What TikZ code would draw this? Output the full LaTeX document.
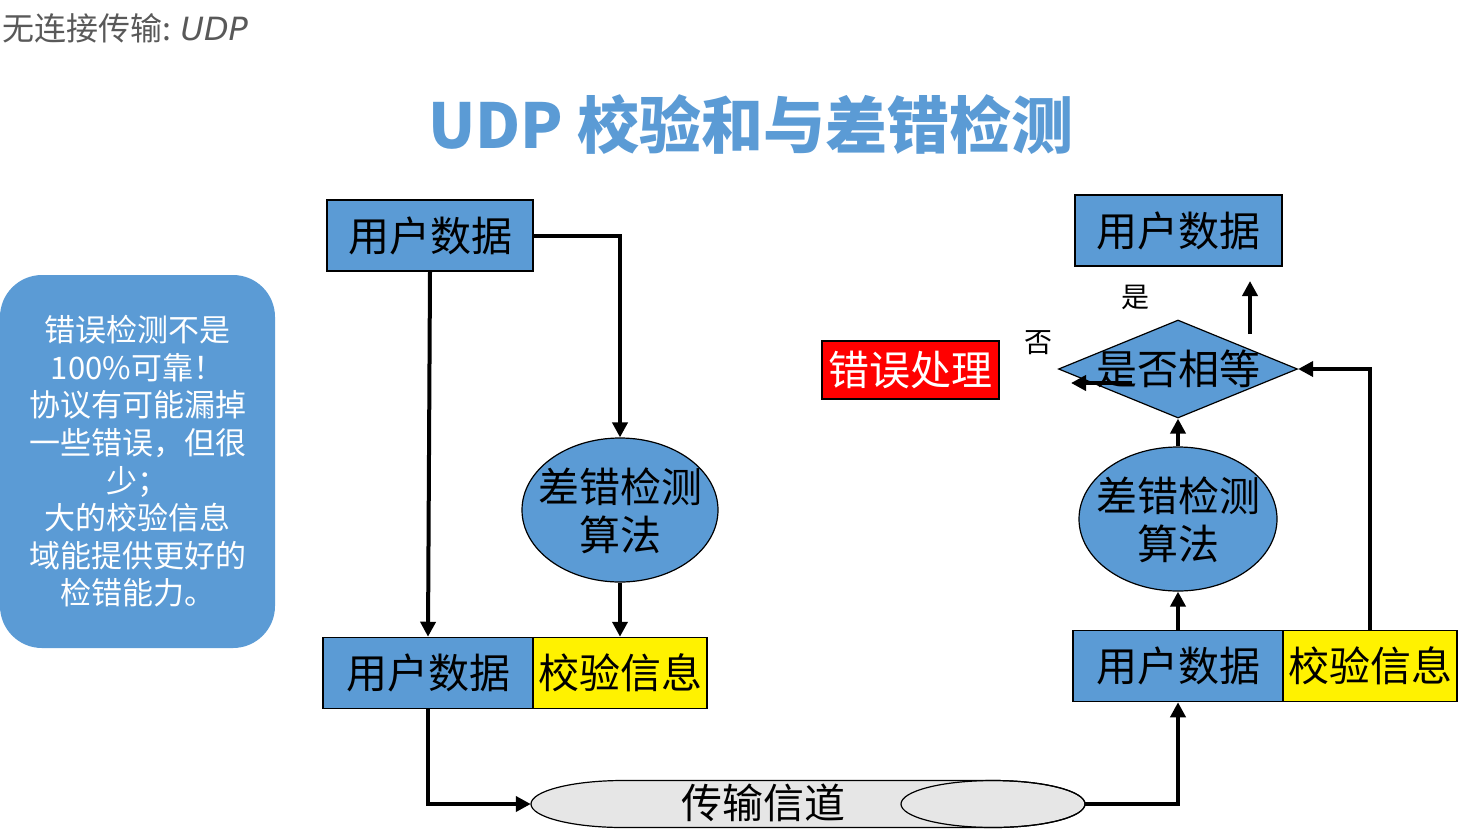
\documentclass[tikz,border=0pt]{standalone}
\usepackage{fontspec}
\setmainfont{Noto Sans CJK SC}
\newfontfamily\latfont{DejaVu Sans}
\usetikzlibrary{shapes.geometric,arrows.meta}
\definecolor{boxblue}{HTML}{5B9BD5}
\definecolor{titleblue}{HTML}{5B9BD5}
\definecolor{hdrgray}{HTML}{595959}
\definecolor{chgray}{HTML}{E6E6E6}
\begin{document}
\begin{tikzpicture}[x=1pt,y=-1pt,
  bigtxt/.style={font=\fontsize{41}{48}\selectfont},
  databox/.style={draw=black, line width=1.5pt, fill=boxblue, minimum height=71, inner sep=0, bigtxt},
  chkbox/.style={draw=black, line width=1.5pt, fill=yellow, minimum height=71, inner sep=0, bigtxt},
  algo/.style={ellipse, draw=black, line width=1.2pt, fill=boxblue, minimum width=196, minimum height=144, inner sep=0},
  algotxt/.style={align=center, inner sep=0, bigtxt},
  arr/.style={line width=4pt, -{Triangle[length=15pt,width=15pt]}},
  smalllbl/.style={font=\fontsize{28}{28}\selectfont}
]
\useasboundingbox (0,0) rectangle (1475,831);

% header
\node[anchor=west, text=hdrgray, inner sep=0, font=\fontsize{32}{32}\selectfont] (hdr) at (2,28) {无连接传输: {\latfont\itshape UDP}};
% title
\node[text=titleblue, inner sep=0, font=\fontsize{62}{62}\selectfont\bfseries] (title) at (751,125) {UDP 校验和与差错检测};

% left note
\node[fill=boxblue, rounded corners=42pt, minimum width=275, minimum height=373, inner sep=0, text=white, align=center, font=\fontsize{31}{37.6}\selectfont] (note) at (137.5,461.5)
 {错误检测不是\\100\%可靠！\\协议有可能漏掉\\一些错误，但很\\少；\\大的校验信息\\域能提供更好的\\检错能力。};

% sender side
\node[databox, minimum width=206] (ud1) at (430,235.5) {用户数据};
\node[algo] (alg1) at (620,510) {};
\node[algotxt] (alg1txt) at (620,511) {差错检测\\算法};
\node[databox, minimum width=210] (bud) at (428,673) {用户数据};
\node[chkbox, minimum width=174] (bchk) at (620,673) {校验信息};

% channel
\node[minimum width=554, minimum height=47, inner sep=0] (chan) at (808,804) {};
\filldraw[fill=chgray, draw=black, line width=1.2pt]
  (623,780.5) -- (993,780.5) arc(-90:90:92 and 23.5) -- (623,827.5) arc(90:270:92 and 23.5) -- cycle;
\draw[line width=1.2pt] (993,804) ellipse (92 and 23.5);
\node[bigtxt, inner sep=0] (chantxt) at (763,803) {传输信道};

% receiver side
\node[databox, minimum width=210] (rud) at (1178,666) {用户数据};
\node[chkbox, minimum width=174] (rchk) at (1370,666) {校验信息};
\node[algo, minimum width=198] (alg2) at (1178,519) {};
\node[algotxt] (alg2txt) at (1178,520) {差错检测\\算法};
\node[diamond, draw=black, line width=1.2pt, fill=boxblue, minimum width=239, minimum height=98, inner sep=0] (dia) at (1178,369) {};
\node[bigtxt, inner sep=0] (diatxt) at (1178,369) {是否相等};
\node[databox, minimum width=207] (ud2) at (1178.5,230.5) {用户数据};
\node[draw=black, line width=2pt, fill=red, minimum width=177, minimum height=58, inner sep=0, text=white, bigtxt] (err) at (910.5,370) {错误处理};
\node[smalllbl, inner sep=0] (yes) at (1135,297) {是};
\node[smalllbl, inner sep=0] (no) at (1038,343) {否};

\coordinate (yesS) at (1250,334);
\coordinate (yesE) at (1250,281);
\coordinate (noS) at (1132,383);
\coordinate (noE) at (1071,383);

% connectors
\draw[arr] (ud1.south) -- (bud.north);
\draw[arr] (ud1.east) -| (alg1.north);
\draw[arr] (alg1.south) -- (bchk.north);
\draw[arr] (bud.south) |- (chan.west);
\draw[arr] (chan.east) -| (rud.south);
\draw[arr] (rud.north) -- (alg2.south);
\draw[arr] (alg2.north) -- (dia.south);
\draw[arr] (rchk.north) |- (dia.east);
\draw[arr] (yesS) -- (yesE);
\draw[arr] (noS) -- (noE);
\end{tikzpicture}
\end{document}
